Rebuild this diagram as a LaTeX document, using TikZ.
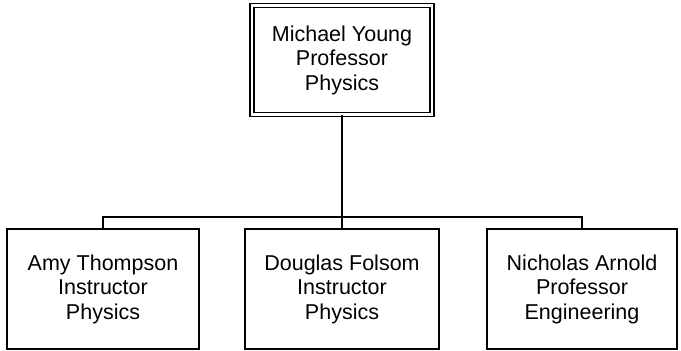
\documentclass[tikz,border=0pt]{standalone}
\usepackage{fontspec}
\setmainfont{Liberation Sans}
\begin{document}
\begin{tikzpicture}[x=1pt,y=-1pt,
  person/.style={draw, line width=1.6pt, minimum width=192pt, minimum height=120pt,
    inner sep=0pt, align=center, font=\fontsize{21.5pt}{24.5pt}\selectfont},
  head/.style={person, double, double distance=2.6pt, minimum width=180pt, minimum height=109pt},
  link/.style={line width=1.6pt}]
\useasboundingbox (0,0) rectangle (681,351);
\node[head] (top) at (342,60) {Michael Young\\Professor\\Physics};
\node[person] (amy) at (103,289) {Amy Thompson\\Instructor\\Physics};
\node[person, minimum width=194pt] (doug) at (342,289) {Douglas Folsom\\Instructor\\Physics};
\node[person, minimum width=190pt] (nick) at (582,289) {Nicholas Arnold\\Professor\\Engineering};
\coordinate (bus) at (342,217);
\draw[link] (top.south) -- (bus);
\draw[link] (amy.north) |- (bus);
\draw[link] (bus) -| (nick.north);
\draw[link] (bus) -- (doug.north);
\end{tikzpicture}
\end{document}
